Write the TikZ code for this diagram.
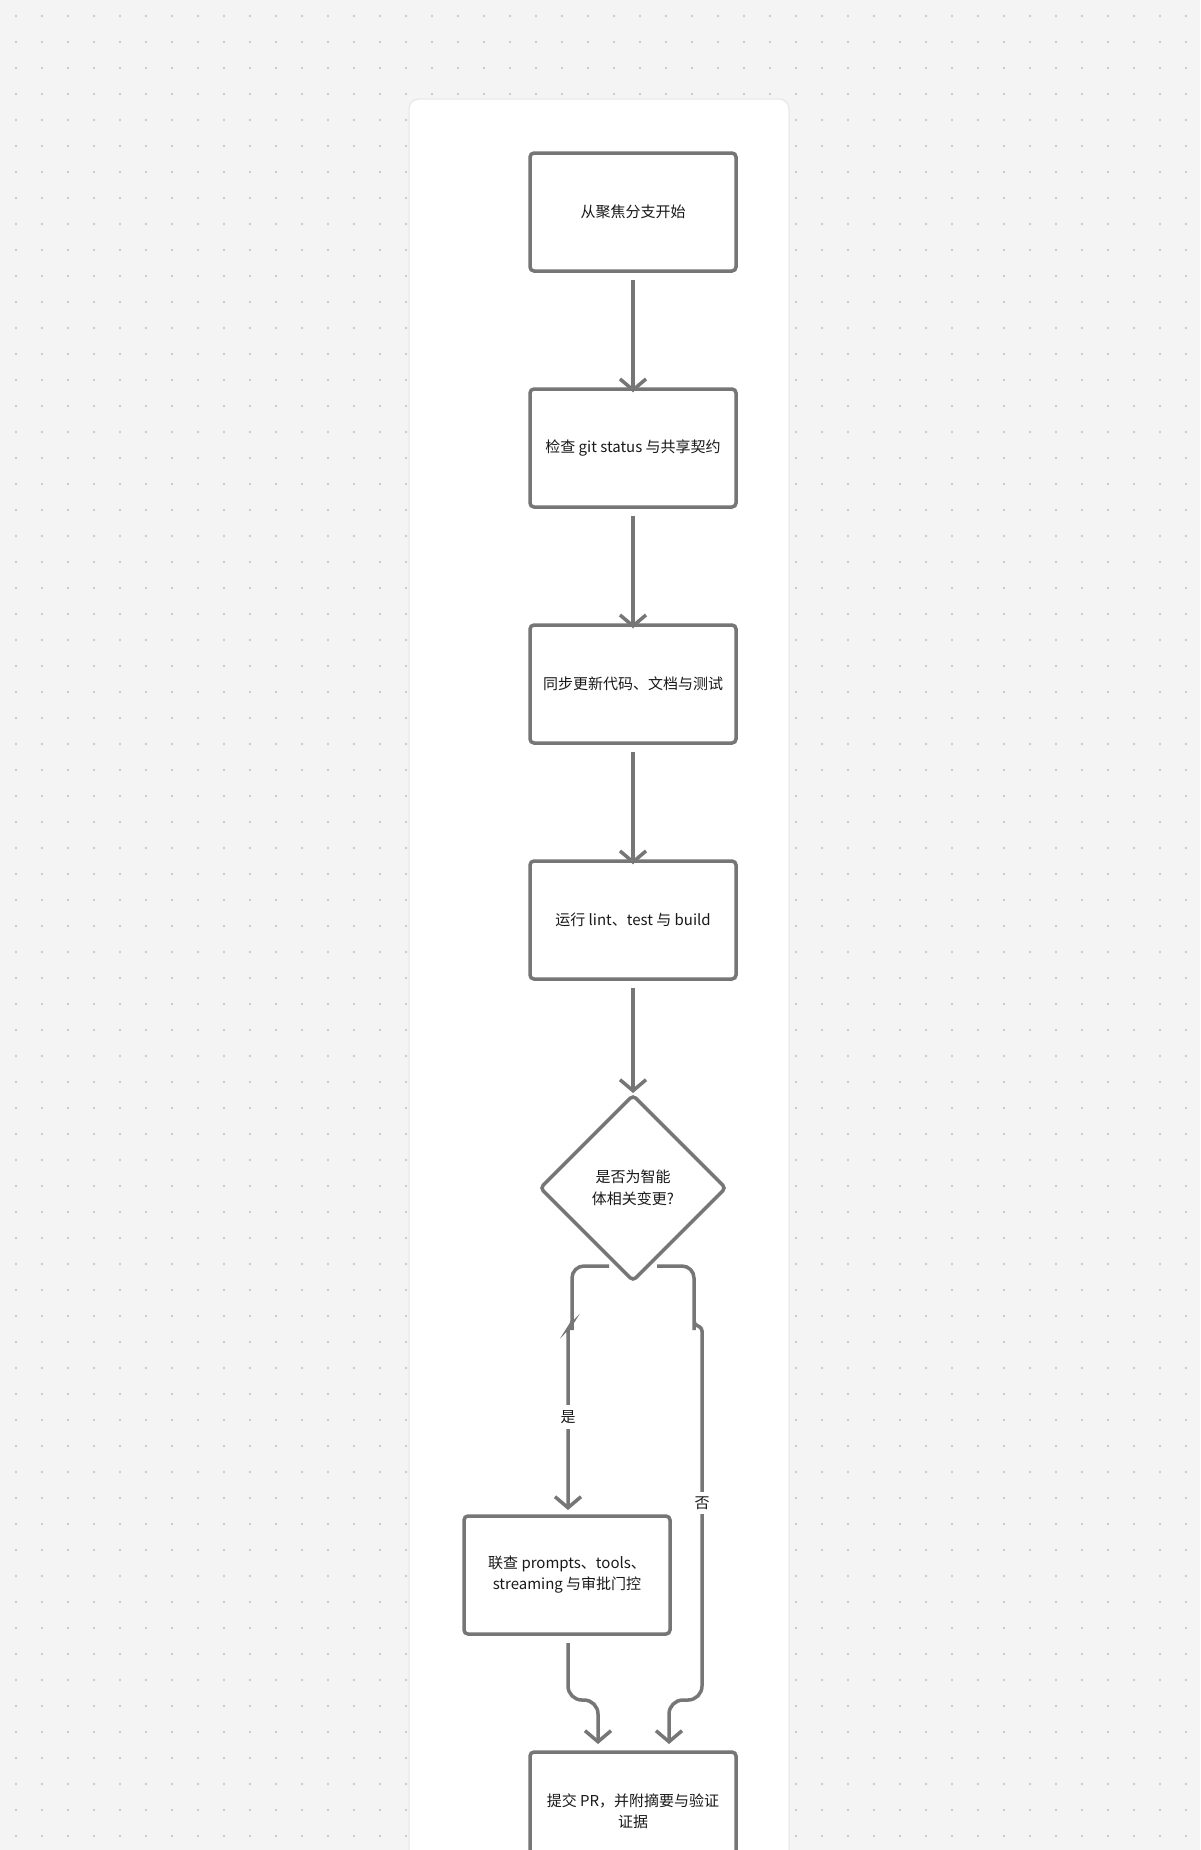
\documentclass[tikz,border=0pt]{standalone}
\usepackage{fontspec}
\setmainfont{Noto Sans CJK SC}
\usetikzlibrary{arrows.meta}
\definecolor{bg}{HTML}{F4F4F4}
\definecolor{ln}{HTML}{767676}
\begin{document}
\begin{tikzpicture}[x=1pt,y=-1pt,
  box/.style={draw=ln,line width=3.5pt,rounded corners=4pt,fill=white,minimum width=206pt,minimum height=118pt,align=center,font=\fontsize{15}{21}\selectfont,text=black!90},
  dia/.style={draw=ln,line width=3.5pt,rounded corners=4pt,fill=white,shape=rectangle,rotate=45,minimum width=131pt,minimum height=131pt},
  con/.style={draw=ln,line width=3.5pt,-{Straight Barb[length=11pt,width=26pt,line width=3.5pt]}},
  lab/.style={fill=white,font=\fontsize{15}{16}\selectfont,text=black!90,inner sep=5pt}]
\useasboundingbox (0,0) rectangle (1200,1850);
\fill[bg] (0,0) rectangle (1200,1850);
\foreach \i in {0,...,46}{\foreach \j in {0,...,71}{\fill[black!25] (16+\i*26,16+\j*26) circle (1.1pt);}}
\draw[black!10,fill=white,line width=1pt,rounded corners=10pt] (409,99) rectangle (789,1900);
\node[box] (a) at (633,212) {从聚焦分支开始};
\node[box] (b) at (633,448) {检查 git status 与共享契约};
\node[box] (c) at (633,684) {同步更新代码、文档与测试};
\node[box] (d) at (633,920) {运行 lint、test 与 build};
\node[dia] (e) at (633,1188) {};
\node[font=\fontsize{15}{22}\selectfont,align=center,text=black!90] (et) at (633,1188) {是否为智能\\体相关变更?};
\node[box] (f) at (567,1575) {联查 prompts、tools、\\streaming 与审批门控};
\node[box] (g) at (633,1811) {提交 PR，并附摘要与验证\\证据};
\coordinate (e1) at (609,1266);
\coordinate (e2) at (657,1266);
\draw[con] (a.south)++(0,7) -- ([yshift=-5pt]b.north);
\draw[con] (b.south)++(0,7) -- ([yshift=-5pt]c.north);
\draw[con] (c.south)++(0,7) -- ([yshift=-5pt]d.north);
\draw[con] (d.south)++(0,7) -- (633,1093);
\draw[con,rounded corners=12pt] (e1) -- (572,1266) -- (572,1318) [rounded corners=3pt] -- (572,1324) -- (568,1328) -- (568,1334) [rounded corners=0pt] -- (568,1510);
\node[lab] at (568,1417) {是};
\draw[con,rounded corners=12pt] (e2) -- (694,1266) -- (694,1318) [rounded corners=3pt] -- (694,1324) -- (702,1328) -- (702,1334) [rounded corners=14pt] -- (702,1700) -- (669,1700) [rounded corners=0pt] -- (669,1744);
\node[lab] at (702,1503) {否};
\draw[con,rounded corners=14pt] (568,1643) -- (568,1700) -- (598,1700) [rounded corners=0pt] -- (598,1744);
\end{tikzpicture}
\end{document}
